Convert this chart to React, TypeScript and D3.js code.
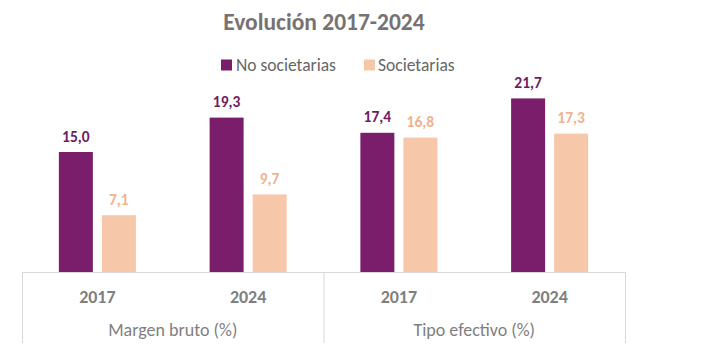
import React from "react";
import * as d3 from "d3";

const categories = ["Margen bruto (%)", "Tipo efectivo (%)"];
const years = ["2017", "2024"];
const seriesNames = ["No societarias", "Societarias"];
const noSocietarias = [15.0, 19.3, 17.4, 21.7];
const societarias = [7.1, 9.7, 16.8, 17.3];
const title = "Evolución 2017-2024";

const W = 702;
const H = 362;
const FONT = "Carlito, Calibri, Lato, sans-serif";
const PURPLE = "#7a1e6c";
const PEACH = "#f7c7a9";
const PURPLE_LABEL = "#6f1d62";
const PEACH_LABEL = "#efb38f";
const GRID = "#d9d9d9";
const TEXT = "#7f7f7f";

export default function App() {
  const groups = categories.flatMap((c) => years.map((y) => `${c}|${y}`));
  const left = 22;
  const right = 625;
  const baseY = 272;
  const x0 = d3.scaleBand<string>().domain(groups).range([left, right]).padding(0);
  const xc = d3.scaleBand<string>().domain(categories).range([left, right]).padding(0);
  const x1 = d3
    .scaleBand<string>()
    .domain(seriesNames)
    .range([0, x0.bandwidth()])
    .paddingInner(0.21)
    .paddingOuter(0.857);
  const y = d3.scaleLinear().domain([0, 25]).range([baseY, 72]);
  const fmt = (v: number) => d3.format(".1f")(v).replace(".", ",");
  const series = [
    { name: seriesNames[0], values: noSocietarias, fill: PURPLE, label: PURPLE_LABEL },
    { name: seriesNames[1], values: societarias, fill: PEACH, label: PEACH_LABEL },
  ];
  const sepXs = [...categories.map((c) => xc(c)!), right];

  return (
    <svg
      width={W}
      height={H}
      style={{ position: "absolute", left: 0, top: 0, background: "#fff" }}
      fontFamily={FONT}
    >
      <rect x={0} y={0} width={W} height={H} fill="#fff" />
      <text x={324} y={30} textAnchor="middle" fontSize={23.5} fontWeight={700} fill="#777272">
        {title}
      </text>
      {/* legend */}
      <rect x={221} y={59.5} width={11} height={11} fill={PURPLE} />
      <text x={236} y={70.5} fontSize={17.5} fill="#666666">
        {seriesNames[0]}
      </text>
      <rect x={364} y={59.5} width={11} height={11} fill={PEACH} />
      <text x={378} y={70.5} fontSize={17.5} fill="#666666">
        {seriesNames[1]}
      </text>
      {/* bars */}
      {groups.map((g, gi) => (
        <g key={g} transform={`translate(${x0(g)},0)`}>
          {series.map((s) => {
            const v = s.values[gi];
            const bx = x1(s.name)!;
            return (
              <g key={s.name}>
                <rect x={bx} y={y(v)} width={x1.bandwidth()} height={baseY - y(v)} fill={s.fill} />
                <text
                  x={bx + x1.bandwidth() / 2}
                  y={y(v) - 10.5}
                  textAnchor="middle"
                  fontSize={15.5}
                  fontWeight={700}
                  fill={s.label}
                >
                  {fmt(v)}
                </text>
              </g>
            );
          })}
          <text
            x={x0.bandwidth() / 2}
            y={303}
            textAnchor="middle"
            fontSize={18}
            fontWeight={700}
            fill={TEXT}
          >
            {g.split("|")[1]}
          </text>
        </g>
      ))}
      {/* axis */}
      <line x1={left} x2={right} y1={baseY + 0.5} y2={baseY + 0.5} stroke={GRID} strokeWidth={1} />
      {sepXs.map((sx, i) => (
        <line key={i} x1={sx + 0.5} x2={sx + 0.5} y1={baseY} y2={343} stroke={GRID} strokeWidth={1} />
      ))}
      {categories.map((c) => (
        <text
          key={c}
          x={xc(c)! + xc.bandwidth() / 2}
          y={336}
          textAnchor="middle"
          fontSize={18}
          fill={TEXT}
        >
          {c}
        </text>
      ))}
    </svg>
  );
}
